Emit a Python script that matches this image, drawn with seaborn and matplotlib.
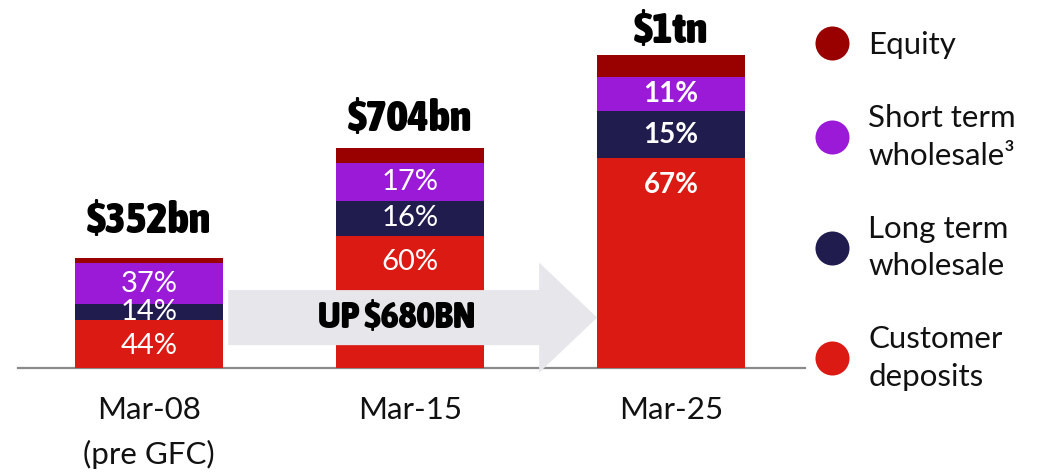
import matplotlib

matplotlib.use("Agg")

import matplotlib.pyplot as plt
import numpy as np
import pandas as pd
import seaborn as sns
from matplotlib import font_manager
from matplotlib.font_manager import FontProperties
from matplotlib.lines import Line2D
from matplotlib.patches import FancyArrow

# data
periods = ["Mar-08\n(pre GFC)", "Mar-15", "Mar-25"]
totals = [352, 704, 1000]  # $bn
total_labels = [r"\$352bn", r"\$704bn", r"\$1tn"]
customer_pct = [44, 60, 67]
long_pct = [14, 16, 15]
short_pct = [37, 17, 11]
equity_pct = [5, 7, 7]
growth_label = r"UP \$680BN"

series_names = ["Customer\ndeposits", "Long term\nwholesale", "Short term\nwholesale\u00b3", "Equity"]
series_colors = ["#db1a14", "#201c4e", "#9a1ad8", "#990000"]

_STRETCH = {"ultra-condensed": 100, "extra-condensed": 200, "condensed": 300,
            "semi-condensed": 400, "normal": 500}


def _weight(w) -> int:
    if isinstance(w, int):
        return w
    return {"bold": 700, "heavy": 800, "black": 900, "extra bold": 800,
            "semibold": 600, "demibold": 600}.get(str(w).lower(), 400)


def _headline_font() -> FontProperties:
    best = None
    for f in font_manager.fontManager.ttflist:
        st = f.stretch if isinstance(f.stretch, int) else _STRETCH.get(str(f.stretch), 500)
        narrow = st < 500 or any(k in f.name for k in ("Narrow", "Condensed", "Compressed"))
        if not narrow or _weight(f.weight) < 700 or "Italic" in f.fname or f.style != "normal":
            continue
        key = (st, -_weight(f.weight))
        if best is None or key < best[0]:
            best = (key, f.fname)
    if best:
        return FontProperties(fname=best[1])
    return FontProperties(family="Roboto", weight="black")


HEAD = _headline_font()
BODY = "Lato" if any(f.name == "Lato" for f in font_manager.fontManager.ttflist) else "DejaVu Sans"

sns.set_theme(style="white")
plt.rcParams["font.family"] = [BODY, "DejaVu Sans"]

tot = np.array(totals, dtype=float)
pcts = [customer_pct, long_pct, short_pct, equity_pct]
values = [tot * np.array(p) / 100.0 for p in pcts]
cum = np.cumsum(values, axis=0)

df = pd.DataFrame({"period": periods})

W, H = 1049, 473
fig = plt.figure(figsize=(W / 100, H / 100), dpi=100)
ax = fig.add_axes([18 / W, 105 / H, 787 / W, 368 / H])

bar_w = 0.567
# layered cumulative bars: top of stack first, base last
for k in range(len(series_names) - 1, -1, -1):
    df["v"] = cum[k]
    sns.barplot(data=df, x="period", y="v", color=series_colors[k], saturation=1,
                width=bar_w, errorbar=None, linewidth=0, ax=ax, zorder=2)

ax.set_xlim(-0.502, 2.513)
ax.set_ylim(0, 1176)
ax.set_xlabel("")
ax.set_ylabel("")
ax.set_yticks([])
ax.set_xticks(range(len(periods)))
ax.set_xticklabels(periods, linespacing=1.67, fontsize=22.5, color="#111111")
ax.tick_params(axis="x", length=0, pad=20)
for s in ["left", "right", "top"]:
    ax.spines[s].set_visible(False)
ax.spines["bottom"].set_color("#8a8a8a")
ax.spines["bottom"].set_linewidth(1.6)
ax.spines["bottom"].set_zorder(1)

# growth arrow between first and last bar
a_start = 0 + bar_w / 2 + 0.02
a_end = 2 - bar_w / 2
head_len = 0.222
arrow = FancyArrow(a_start, 161, a_end - a_start, 0, width=176, head_width=352,
                   head_length=head_len, length_includes_head=True,
                   color="#e6e6eb", linewidth=0, zorder=3, clip_on=False)
ax.add_patch(arrow)
fp_arrow = HEAD.copy()
fp_arrow.set_size(27.5)
ax.text((a_start + a_end - head_len) / 2 + 0.05, 161, growth_label, ha="center", va="center",
        fontproperties=fp_arrow, color="black", zorder=4)

# totals above bars
fp_tot = HEAD.copy()
fp_tot.set_size(32)
total_offsets = [18, 12, 8.5]
for i, (t, lab) in enumerate(zip(totals, total_labels)):
    ax.annotate(lab, xy=(i, t), xytext=(0, total_offsets[i]), textcoords="offset points",
                ha="center", va="baseline", fontproperties=fp_tot, color="black", zorder=4)

# percentage labels
pct_weights = ["normal", "normal", "bold"]
pct_sizes = [21, 21, 20]
for i in range(len(periods)):
    kw = dict(ha="center", va="center", color="white", fontsize=pct_sizes[i],
              fontweight=pct_weights[i], zorder=4)
    # customer deposits label sits near the top of its segment
    ax.annotate(f"{customer_pct[i]}%", xy=(i, cum[0][i]), xytext=(0, -19),
                textcoords="offset points", **kw)
    ax.text(i, (cum[0][i] + cum[1][i]) / 2, f"{long_pct[i]}%", **kw)
    ax.text(i, (cum[1][i] + cum[2][i]) / 2, f"{short_pct[i]}%", **kw)

# legend: top to bottom Equity -> Customer deposits
handles = [Line2D([], [], marker="o", linestyle="", markersize=24.5,
                  markerfacecolor=c, markeredgewidth=0) for c in series_colors[::-1]]
leg = fig.legend(handles, series_names[::-1], loc="upper left",
                 bbox_to_anchor=(815 / W, 1 - 31 / H), frameon=False, fontsize=22.5,
                 handlelength=1.1, handletextpad=0.6, labelspacing=1.45,
                 borderpad=0, borderaxespad=0)
for t in leg.get_texts():
    t.set_linespacing(1.4)
    t.set_color("#111111")

fig.savefig("out.png", dpi=100)
plt.close(fig)
